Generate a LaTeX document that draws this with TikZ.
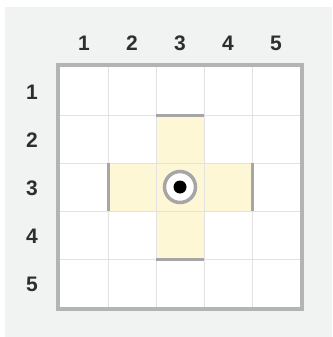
\documentclass[tikz,border=0pt]{standalone}
\usepackage{fontspec}
\setmainfont{Liberation Sans}
\definecolor{bgc}{HTML}{F1F2F2}
\definecolor{gridc}{HTML}{E2E2E2}
\definecolor{borderc}{HTML}{B4B4B4}
\definecolor{barc}{HTML}{A6A6A6}
\definecolor{cellY}{HTML}{FDF7D6}
\definecolor{txtc}{HTML}{2E2E2E}
\begin{document}
\begin{tikzpicture}[x=1pt,y=-1pt,
  lbl/.style={text=txtc,font=\fontsize{21}{21}\selectfont\bfseries,inner sep=0pt},
  ycell/.style={fill=cellY},
  bar/.style={draw=barc,line width=3pt},
  gline/.style={draw=gridc,line width=1pt}]
\useasboundingbox (0,0) rectangle (332,337);
\fill[white] (0,0) rectangle (332,337);
\fill[bgc] (5,7) rectangle (332,337);
% grid cells
\fill[white] (60,67) rectangle (300,307);
\fill[ycell] (156,115) rectangle (204,259);
\fill[ycell] (108,163) rectangle (252,211);
\foreach \i in {1,...,4} {
  \draw[gline] (60+48*\i,67) -- (60+48*\i,307);
  \draw[gline] (60,67+48*\i) -- (300,67+48*\i);
}
\draw[draw=borderc,line width=4pt] (58,65) rectangle (302,309);
% bars
\draw[bar] (156,115) -- (204,115);
\draw[bar] (156,259) -- (204,259);
\draw[bar] (108,163) -- (108,211);
\draw[bar] (252,163) -- (252,211);
% target
\node[circle,draw=barc,line width=3.5pt,fill=white,minimum size=31pt,inner sep=0pt] (ring) at (180,187) {};
\node[circle,fill=black,minimum size=13pt,inner sep=0pt] (dot) at (ring.center) {};
% labels
\foreach \c in {1,...,5} {
  \node[lbl] (c\c) at (36+48*\c,43) {\c};
  \node[lbl] (r\c) at (32,44+48*\c) {\c};
}
\end{tikzpicture}
\end{document}
